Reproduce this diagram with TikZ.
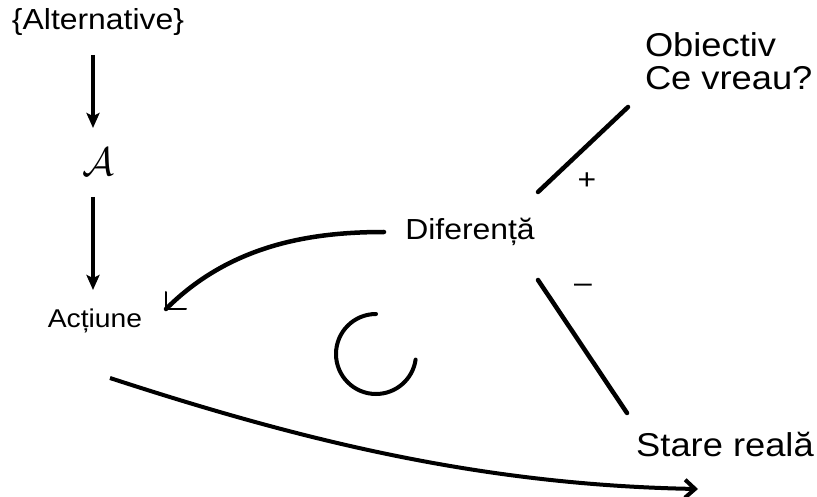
\documentclass[tikz,border=0pt]{standalone}
\usepackage{fontspec}
\setmainfont{Liberation Sans}[FakeStretch=1.1]
\usetikzlibrary{arrows.meta}
\begin{document}
\begin{tikzpicture}[x=1pt,y=1pt,
  lbl/.style={inner sep=0pt, outer sep=0pt},
  fmid/.style={font=\fontsize{29}{33}\selectfont},
  fsmall/.style={font=\fontsize{25.7}{30}\selectfont},
  fbig/.style={font=\fontsize{33}{33}\selectfont},
  stroke/.style={line width=4.5pt, line cap=round},
  thinstroke/.style={line width=2pt, line cap=round},
  downarrow/.style={line width=3.5pt, -{Stealth[length=15pt,width=13pt,inset=3pt]}},
]
\useasboundingbox[fill=white] (0,0) rectangle (817,-497);

% text nodes
\node[lbl, fmid, anchor=base] (alt) at (98,-30) {\{Alternative\}};
\node[lbl, font=\fontsize{24.88}{30}\selectfont, scale=1.6] (A) at (98,-162) {$\mathcal{A}$};
\node[lbl, fsmall, anchor=base] (act) at (95,-327) {Acțiune};
\node[lbl, fmid, anchor=base] (dif) at (470,-240) {Diferență};
\node[lbl, fbig, anchor=base west, align=left] (obj) at (645,-90) {Obiectiv\\Ce vreau?};
\node[lbl, fbig, anchor=base] (stare) at (725,-456) {Stare reală};
\node[lbl, fmid] (plus) at (587,-181) {+};
\node[lbl, fmid] (minus) at (583,-288) {\textendash};

% connector end points
\coordinate (a1s) at (93,-55);
\coordinate (a1e) at (93,-128);
\coordinate (a2s) at (93,-197);
\coordinate (a2e) at (93,-290);
\coordinate (cs) at (384,-232);
\coordinate (ce) at (166,-309);
\coordinate (os) at (538,-192);
\coordinate (oe) at (628,-107);
\coordinate (ss) at (538,-280);
\coordinate (se) at (627,-413);
\coordinate (ls) at (110,-378);
\coordinate (le) at (698,-489);
\coordinate (loop) at (376,-354);

% vertical arrows
\draw[downarrow] (a1s) -- (a1e);
\draw[downarrow] (a2s) -- (a2e);

% curve from Diferenta to Actiune
\draw[stroke] (cs) .. controls (310,-232) and (230,-245) .. (ce);
\draw[thinstroke] ([yshift=17pt]ce) -- (ce) -- ([xshift=20pt]ce);

% lines to objective and real state
\draw[stroke] (os) -- (oe);
\draw[stroke] (ss) -- (se);

% loop circle
\draw[line width=4pt, line cap=round] ([yshift=40pt]loop) arc[start angle=90, end angle=352, radius=40pt];

% lower curve
\draw[line width=4pt, -{Straight Barb[length=10pt,width=18pt]}] (ls) .. controls (300,-440) and (480,-485) .. (le);
\end{tikzpicture}
\end{document}
